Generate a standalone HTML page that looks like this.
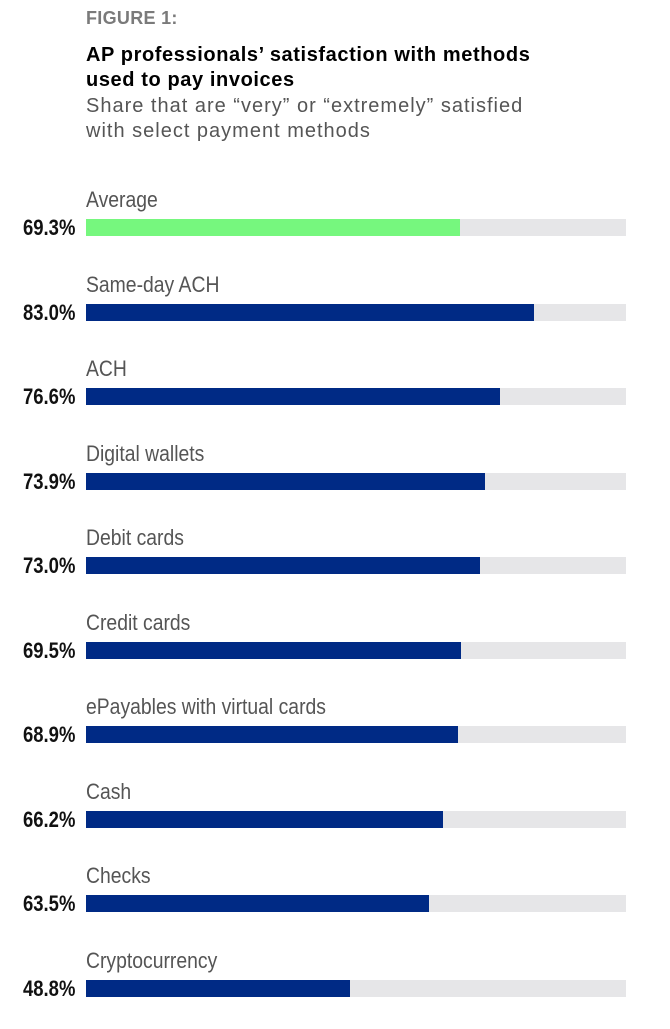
<!DOCTYPE html>
<html><head><style>
body{margin:0;width:670px;height:1029px;background:#fff;position:relative;font-family:"Liberation Sans",sans-serif;overflow:hidden}
.t{position:absolute;left:86px;white-space:nowrap}
.lab{position:absolute;left:86px;font-size:22px;color:#555;white-space:nowrap;transform:scaleX(.88);transform-origin:left top}
.val{position:absolute;right:595px;font-weight:bold;font-size:22px;color:#111;white-space:nowrap;transform:scaleX(.84);transform-origin:right top}
.bg{position:absolute;left:86px;width:540px;height:17px;background:#e6e6e8}
.fg{position:absolute;left:0;top:0;height:17px;background:#002a85}
</style></head><body>
<div class="t" style="top:8px;font-size:18px;font-weight:bold;color:#7a7a7a;letter-spacing:0.3px">FIGURE 1:</div>
<div class="t" style="top:43px;font-size:20px;font-weight:bold;color:#000;line-height:25px;letter-spacing:0.6px">AP professionals’ satisfaction with methods<br>used to pay invoices</div>
<div class="t" style="top:94px;font-size:20px;color:#555;line-height:25px;letter-spacing:1px">Share that are “very” or “extremely” satisfied<br>with select payment methods</div>
<div id="c"></div>
<script>
var d=[["Average",69.3],["Same-day ACH",83.0],["ACH",76.6],["Digital wallets",73.9],["Debit cards",73.0],["Credit cards",69.5],["ePayables with virtual cards",68.9],["Cash",66.2],["Checks",63.5],["Cryptocurrency",48.8]];
var h="";
d.forEach(function(r,i){var y=219+i*84.5;
h+='<div class="lab" style="top:'+(y-32)+'px">'+r[0]+'</div>';
h+='<div class="val" style="top:'+(y-4)+'px">'+r[1].toFixed(1)+'%</div>';
h+='<div class="bg" style="top:'+y+'px"><div class="fg" style="width:'+(r[1]*5.4)+'px;'+(i==0?'background:#76f77e':'')+'"></div></div>';});
document.getElementById("c").innerHTML=h;
</script>
</body></html>
